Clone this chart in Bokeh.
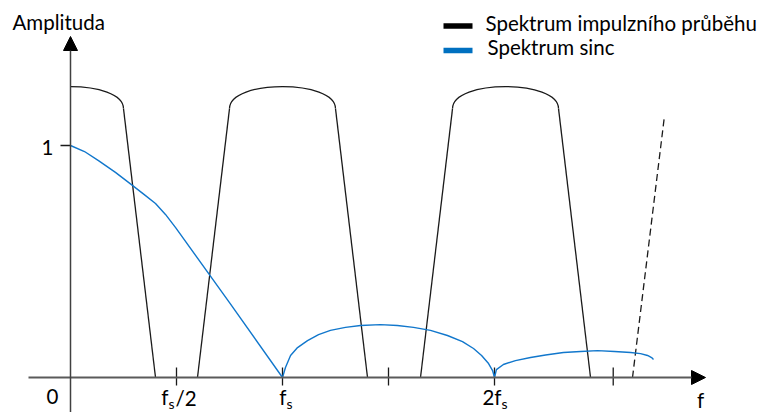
from bokeh.plotting import figure
from bokeh.models import Range1d, Arrow, NormalHead
from bokeh.core.properties import value
from bokeh.embed import file_html
from bokeh.resources import INLINE

# ---------------- data (frequency in units of fs, relative amplitude) ----------------
tick_values = [0.5, 1.0, 1.5, 2.0, 2.56]
tick_main = ["f", "f", "", "2f", ""]
tick_sub = ["s", "s", "", "s", ""]
tick_tail = ["/2", "", "", "", ""]

ytick_values = [1.0]
ytick_labels = ["1"]

# spectrum of the pulse train: repeated bumps
pulse_centers = [0.0, 1.0, 2.052]
pulse_peak = 1.254
pulse_shoulder = 1.159
pulse_shoulder_half = 0.25
pulse_base_half = 0.401

# start of the next (dashed) bump
next_leg_x = [2.651, 2.802]
next_leg_y = [0.0, 1.129]

# |sinc| spectrum
sinc_x = [0.000, 0.066, 0.132, 0.212, 0.292, 0.354, 0.401, 0.448, 0.495, 0.750, 1.000,
          1.014, 1.038, 1.071, 1.118, 1.170, 1.226, 1.297, 1.368, 1.462, 1.542, 1.618,
          1.698, 1.778, 1.849, 1.901, 1.939, 1.972, 1.991, 2.000,
          2.009, 2.042, 2.099, 2.170, 2.241, 2.325, 2.406, 2.486, 2.566, 2.642, 2.689,
          2.722, 2.741, 2.750]
sinc_y = [1.000, 0.974, 0.935, 0.884, 0.828, 0.784, 0.750, 0.703, 0.647, 0.323, 0.000,
          0.043, 0.095, 0.129, 0.159, 0.185, 0.203, 0.216, 0.224, 0.228, 0.224, 0.216,
          0.203, 0.181, 0.155, 0.125, 0.095, 0.060, 0.030, 0.000,
          0.034, 0.056, 0.073, 0.086, 0.097, 0.108, 0.112, 0.116, 0.112, 0.108, 0.103,
          0.095, 0.086, 0.078]

legend_labels = ["Spektrum impulzního průběhu", "Spektrum sinc"]
axis_labels = ["Amplituda", "f", "0"]

# ---------------- layout ----------------
W, H = 766, 412
X0, SX = 70.0, 212.0     # pixel of f=0, pixels per fs
Y0, SY = 377.0, 232.0    # pixel of amplitude 0, pixels per unit amplitude


def px2x(px):
    return (px - X0) / SX


def px2y(px):
    return (Y0 - px) / SY


FONT = value("Lato")
FS = "20.5px"
FS_SUB = "14px"
BLACK = "#1a1a1a"
BLUE = "#1177cc"

p = figure(width=W, height=H, x_range=Range1d(px2x(0), px2x(W)),
           y_range=Range1d(px2y(H), px2y(0)), output_backend="svg",
           toolbar_location=None, min_border=0, x_axis_type=None, y_axis_type=None)
p.outline_line_color = None
p.background_fill_color = "white"

# axes with arrow heads
p.add_layout(Arrow(end=NormalHead(size=14, fill_color="black", line_color="black", line_width=1),
                   x_start=px2x(28), y_start=0, x_end=px2x(705), y_end=0,
                   line_color="#5a5a5a", line_width=2))
p.add_layout(Arrow(end=NormalHead(size=14, fill_color="black", line_color="black", line_width=1),
                   x_start=0, y_start=px2y(H), x_end=0, y_end=px2y(36),
                   line_color="#404040", line_width=1.5))

# x ticks
p.segment(x0=tick_values, y0=[px2y(367)] * len(tick_values),
          x1=tick_values, y1=[px2y(385)] * len(tick_values),
          line_color=BLACK, line_width=1.3)
# y tick
p.segment(x0=[px2x(60)] * len(ytick_values), y0=ytick_values,
          x1=[0] * len(ytick_values), y1=ytick_values, line_color=BLACK, line_width=1.3)

# pulse spectrum bumps
k = (pulse_peak - pulse_shoulder) / 0.75
for c in pulse_centers:
    xl0, xl1 = c - pulse_base_half, c - pulse_shoulder_half
    xr0, xr1 = c + pulse_shoulder_half, c + pulse_base_half
    if xl0 >= 0:
        p.line([xl0, xl1], [0, pulse_shoulder], line_color=BLACK, line_width=1.3)
        p.bezier(x0=[xl1], y0=[pulse_shoulder], x1=[xr0], y1=[pulse_shoulder],
                 cx0=[xl1], cy0=[pulse_shoulder + k], cx1=[xr0], cy1=[pulse_shoulder + k],
                 line_color=BLACK, line_width=1.3)
    else:
        p.bezier(x0=[c], y0=[pulse_peak], x1=[xr0], y1=[pulse_shoulder],
                 cx0=[c + pulse_shoulder_half / 2], cy0=[pulse_peak],
                 cx1=[xr0], cy1=[pulse_shoulder + k / 2],
                 line_color=BLACK, line_width=1.3)
    p.line([xr0, xr1], [pulse_shoulder, 0], line_color=BLACK, line_width=1.3)

p.line(next_leg_x, next_leg_y, line_color=BLACK, line_width=1.3, line_dash="7 4")

# sinc spectrum
p.line(sinc_x, sinc_y, line_color=BLUE, line_width=1.4)

# legend (manual)
p.segment(x0=[px2x(443)], y0=[px2y(25.5)], x1=[px2x(472)], y1=[px2y(25.5)],
          line_color="black", line_width=5.5)
p.segment(x0=[px2x(443)], y0=[px2y(50)], x1=[px2x(472)], y1=[px2y(50)],
          line_color="#0070c0", line_width=5.5)
p.text(x=[px2x(485), px2x(487)], y=[px2y(22.5), px2y(46)], text=legend_labels,
       text_font=FONT, text_font_size=FS, text_baseline="middle",
       text_align="left", text_color="black")

# axis titles
p.text(x=[px2x(12)], y=[px2y(21)], text=[axis_labels[0]], text_font=FONT,
       text_font_size=FS, text_baseline="middle", text_align="left", text_color="black")
p.text(x=[px2x(700)], y=[px2y(399.5)], text=[axis_labels[1]], text_font=FONT,
       text_font_size=FS, text_baseline="middle", text_align="center", text_color="black")
p.text(x=[px2x(52)], y=[px2y(395.5)], text=[axis_labels[2]], text_font=FONT,
       text_font_size=FS, text_baseline="middle", text_align="center", text_color="black")

# y tick label
p.text(x=[px2x(53)] * len(ytick_values), y=ytick_values, y_offset=[1.5] * len(ytick_values),
       text=ytick_labels, text_font=FONT, text_font_size=FS,
       text_baseline="middle", text_align="right", text_color="black")

# x tick labels: main part, subscript, tail
main_off = [-8, 4, 0, 7, 0]
tail_off = [-1, 0, 0, 0, 0]
for tv, m, s, t, mo, to in zip(tick_values, tick_main, tick_sub, tick_tail, main_off, tail_off):
    if not m:
        continue
    p.text(x=[tv], y=[px2y(396)], text=[m], x_offset=[mo], text_font=FONT,
           text_font_size=FS, text_baseline="middle", text_align="right",
           text_color="black")
    p.text(x=[tv], y=[px2y(402.5)], text=[s], x_offset=[mo], text_font=FONT,
           text_font_size=FS_SUB, text_baseline="middle", text_align="left",
           text_color="black")
    if t:
        p.text(x=[tv], y=[px2y(397)], text=[t], x_offset=[to], text_font=FONT,
               text_font_size=FS, text_baseline="middle", text_align="left",
               text_color="black")

open("out.html", "w").write(file_html(p, INLINE))
